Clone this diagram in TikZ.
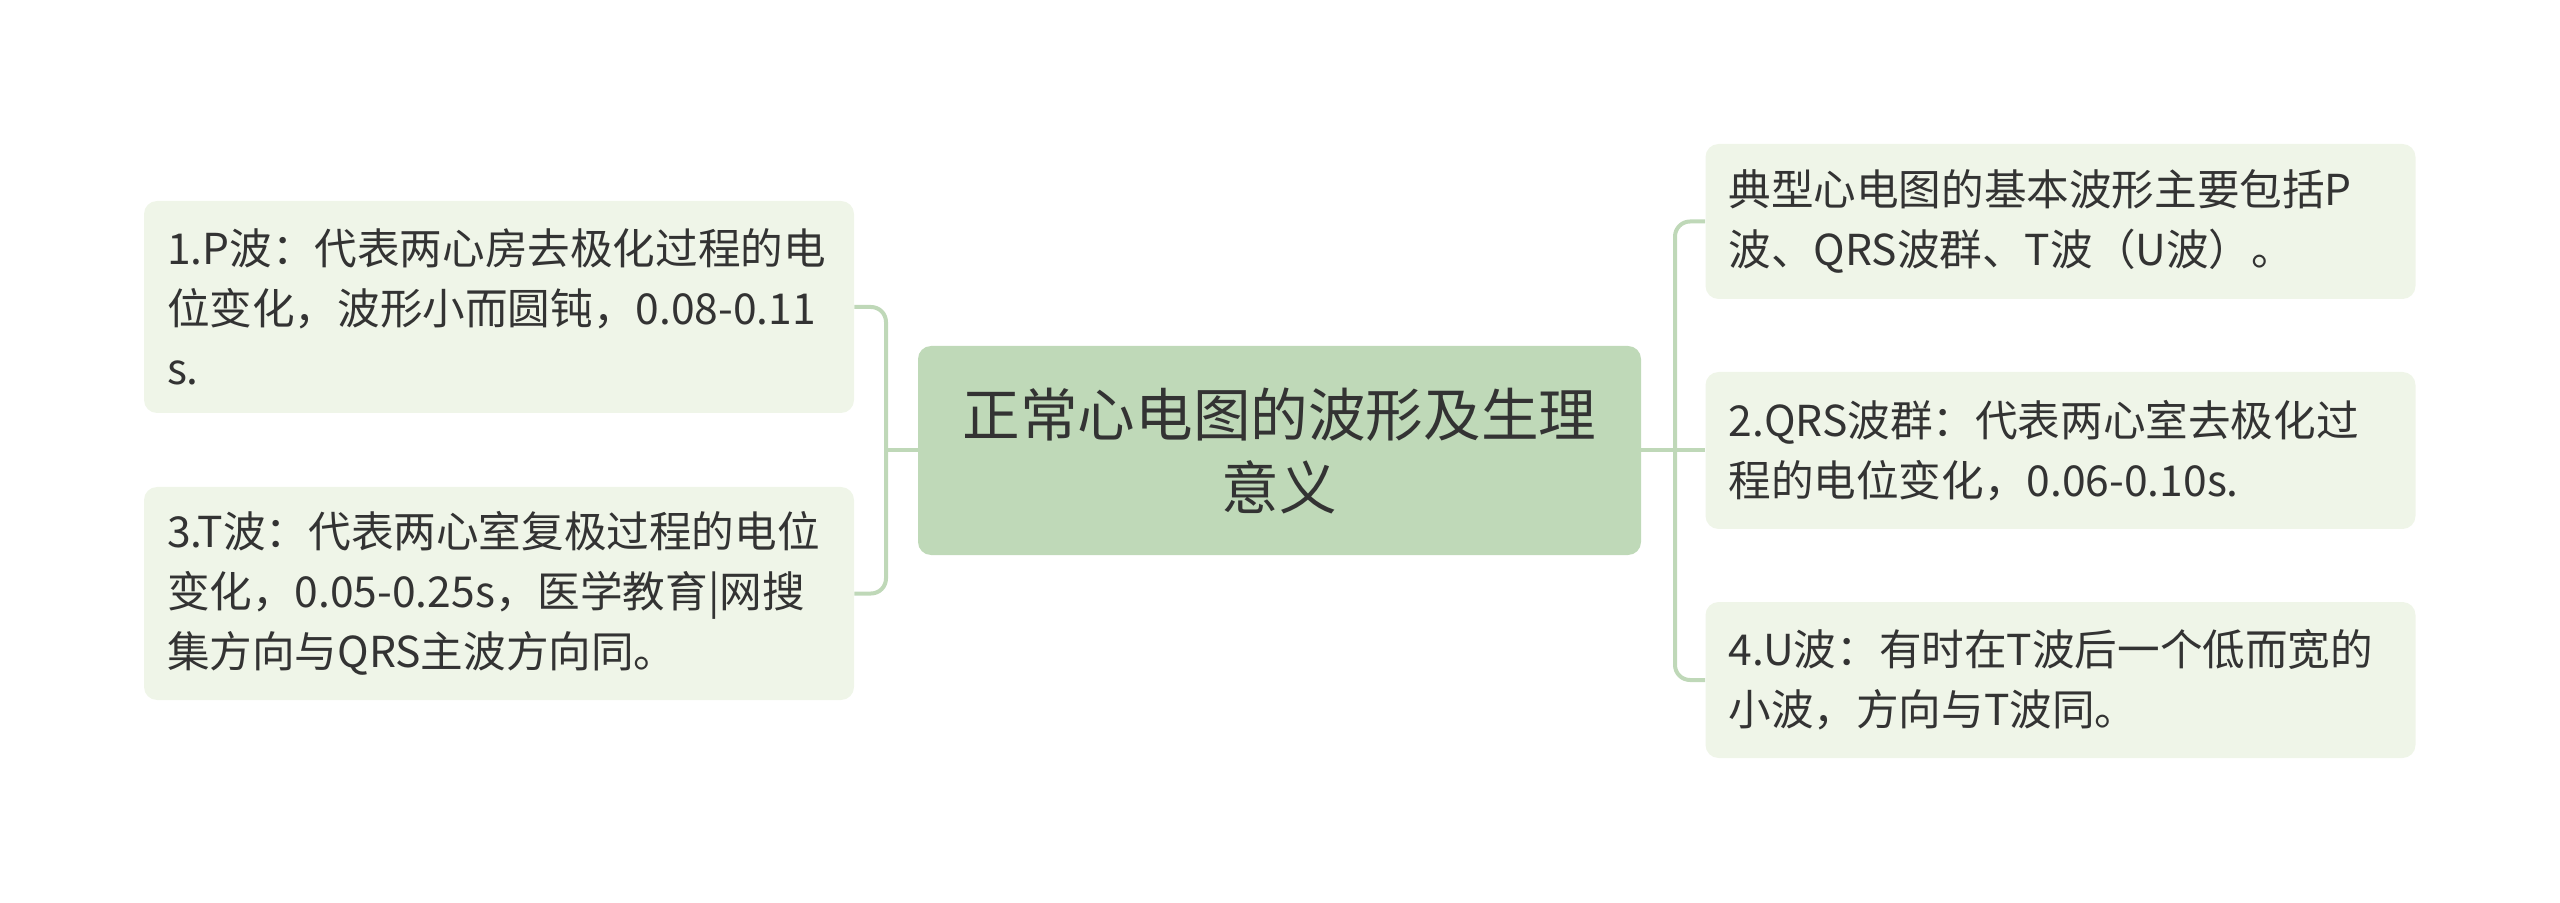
\documentclass[tikz,border=0pt]{standalone}
\usepackage{fontspec}
\newfontfamily\cjk{Noto Sans CJK SC}
\definecolor{conncol}{HTML}{BFD8B8}
\definecolor{rootfill}{HTML}{BFD9B8}
\definecolor{leaffill}{HTML}{EFF5E8}
\definecolor{txt}{HTML}{333333}
\tikzset{
  leaf/.style={fill=leaffill, rounded corners=6.5pt, text=txt, align=left,
    font=\cjk\fontsize{21.3pt}{30pt}\selectfont, inner xsep=11.5pt, inner ysep=0pt,
    minimum width=355pt, text width=332pt},
  rootbox/.style={fill=rootfill, rounded corners=6.5pt, text=txt, align=center,
    font=\cjk\fontsize{28.8pt}{36.5pt}\selectfont, inner sep=0pt,
    minimum width=361.5pt, minimum height=104.5pt},
  conn/.style={draw=conncol, line width=2pt, rounded corners=7.5pt}
}
\begin{document}
\begin{tikzpicture}[x=0.5pt,y=-0.5pt]
\useasboundingbox (0,0) rectangle (2560,903);
\node[rootbox] (C) at (1279.5,450.5) {正常心电图的波形及生理\\意义};
\node[leaf, minimum height=106pt] (P) at (499,307) {1.P波：代表两心房去极化过程的电\\位变化，波形小而圆钝，0.08-0.11\\s.};
\node[leaf, minimum height=106.5pt] (T) at (499,593.5) {3.T波：代表两心室复极过程的电位\\变化，0.05-0.25s，医学教育|网搜\\集方向与QRS主波方向同。};
\node[leaf, minimum height=77.5pt] (A) at (2060.5,221.5) {典型心电图的基本波形主要包括P\\波、QRS波群、T波（U波）。};
\node[leaf, minimum height=78.5pt] (B) at (2060.5,450.5) {2.QRS波群：代表两心室去极化过\\程的电位变化，0.06-0.10s.};
\node[leaf, minimum height=78pt] (D) at (2060.5,680) {4.U波：有时在T波后一个低而宽的\\小波，方向与T波同。};
\coordinate (L) at (886,450.5);
\coordinate (R) at (1675,450.5);
\draw[conn] (C.west) -- (L);
\draw[conn] (P.east) -| (L) |- (T.east);
\draw[conn] (C.east) -- (R);
\draw[conn] (A.west) -| (R) |- (D.west);
\draw[conn] (R) -- (B.west);
\end{tikzpicture}
\end{document}
